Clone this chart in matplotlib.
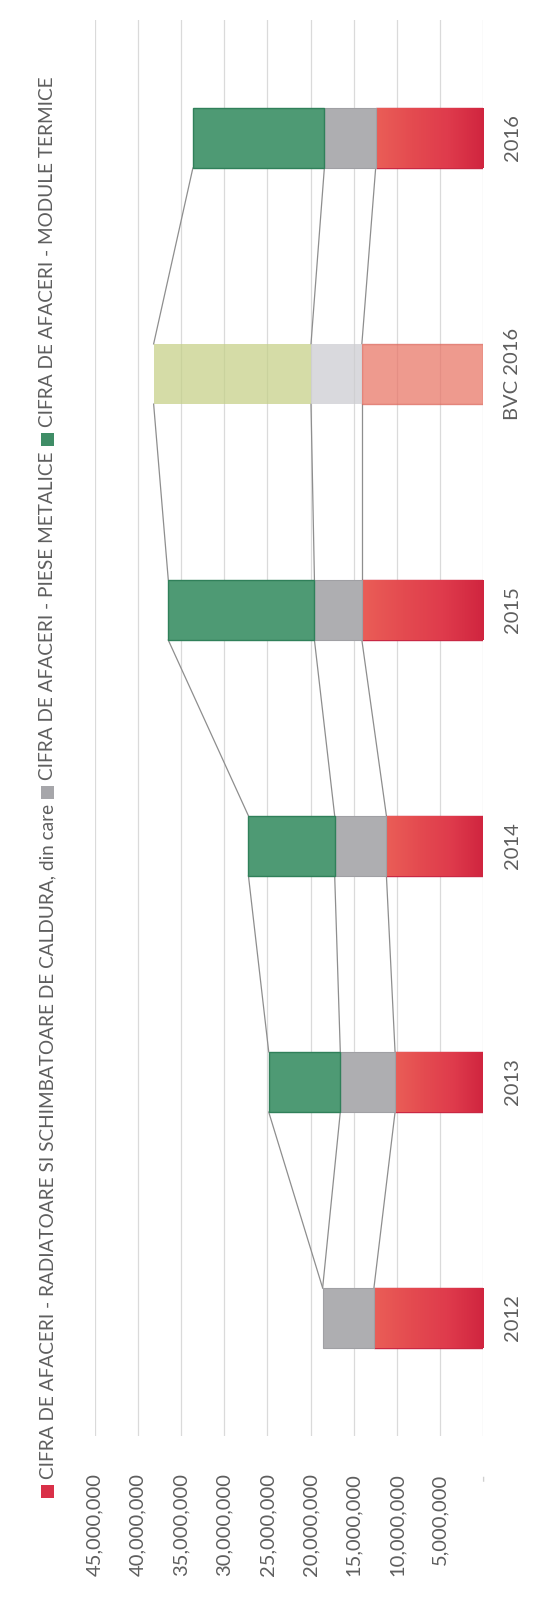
import numpy as np
import matplotlib
matplotlib.use("Agg")
import matplotlib.pyplot as plt
from matplotlib.patches import Rectangle
from matplotlib.colors import LinearSegmentedColormap

# ---------------- data ----------------
categories = ["2012", "2013", "2014", "2015", "BVC 2016", "2016"]
radiatoare = [12.65e6, 10.2e6, 11.2e6, 14.05e6, 14.05e6, 12.45e6]
piese_metalice = [5.95e6, 6.35e6, 6.0e6, 5.5e6, 5.9e6, 5.95e6]
module_termice = [0.0, 8.3e6, 10.0e6, 16.95e6, 18.25e6, 15.25e6]
value_ticks = [0, 5e6, 10e6, 15e6, 20e6, 25e6, 30e6, 35e6, 40e6, 45e6]
value_tick_labels = ["-", "5,000,000", "10,000,000", "15,000,000", "20,000,000",
                     "25,000,000", "30,000,000", "35,000,000", "40,000,000", "45,000,000"]
series_names = ["CIFRA DE AFACERI - RADIATOARE SI SCHIMBATOARE DE CALDURA, din care",
                "CIFRA DE AFACERI - PIESE METALICE",
                "CIFRA DE AFACERI - MODULE TERMICE"]
budget_category = "BVC 2016"

# ---------------- style ----------------
FONT = ["Lato", "DejaVu Sans"]
TXT = "#5E5E5E"
W, H = 535, 1597
plt.rcParams["font.family"] = FONT

red_cmap = LinearSegmentedColormap.from_list("red", ["#D0253F", "#DF3B4C", "#E44B50", "#EA5E57"])
red_edge = "#C92844"
gray_face, gray_edge = "#AEAEB1", "#A0A0A4"
green_face, green_edge = "#4E9A74", "#30805A"
bvc_red, bvc_red_edge = "#E87363", "#DC6A5E"
bvc_gray = "#CBCBD0"
bvc_green = "#C5CF86"

fig = plt.figure(figsize=(W / 100, H / 100), dpi=100)
ax = fig.add_axes([95 / W, 1 - 1436 / H, (483 - 95) / W, (1436 - 20) / H])

y = np.arange(len(categories))
h = 0.255
red = np.array(radiatoare)
gray = np.array(piese_metalice)
green = np.array(module_termice)

for i, cat in enumerate(categories):
    if cat == budget_category:
        ax.barh(y[i], red[i], h, left=0, color=bvc_red, edgecolor=bvc_red_edge,
                lw=1, alpha=0.72, zorder=2)
        ax.barh(y[i], gray[i], h, left=red[i], color=bvc_gray, edgecolor="none",
                alpha=0.72, zorder=2)
        ax.barh(y[i], green[i], h, left=red[i] + gray[i], color=bvc_green,
                edgecolor="none", alpha=0.72, zorder=2)
    else:
        b = ax.barh(y[i], red[i], h, left=0, color="#DE3A4E", edgecolor=red_edge,
                    lw=1, zorder=2)[0]
        im = ax.imshow(np.linspace(0, 1, 256).reshape(1, -1),
                       extent=(0, red[i], y[i] - h / 2, y[i] + h / 2),
                       cmap=red_cmap, aspect="auto", zorder=2.1,
                       interpolation="bilinear")
        im.set_clip_path(b)
        ax.barh(y[i], gray[i], h, left=red[i], color=gray_face, edgecolor=gray_edge,
                lw=0.8, zorder=2.2)
        if green[i] > 0:
            ax.barh(y[i], green[i], h, left=red[i] + gray[i], color=green_face,
                    edgecolor=green_edge, lw=1, zorder=2.2)

# series lines
c1 = red
c2 = red + gray
c3 = red + gray + green
for i in range(len(categories) - 1):
    for c in (c1, c2, c3):
        ax.plot([c[i], c[i + 1]], [y[i] + h / 2, y[i + 1] - h / 2],
                color="#8E8E8E", lw=0.9, zorder=1.5)

ax.set_xlim(45e6, 0)
ax.set_ylim(-0.5, len(categories) - 0.5)

ax.set_axisbelow(True)
ax.set_xticks(value_ticks)
ax.set_xticklabels(value_tick_labels, rotation=90, va="top", ha="center",
                   fontsize=14.5, color=TXT)
ax.get_xticklabels()[0].set_color("#CFCFCF")
ax.tick_params(axis="x", length=0, pad=27)
ax.xaxis.grid(True, color="#DADADA", lw=0.9)
ax.yaxis.grid(False)

ax.yaxis.tick_right()
ax.set_yticks(y)
ax.set_yticklabels(categories, rotation=90, va="center", ha="left",
                   fontsize=14.5, color=TXT)
ax.tick_params(axis="y", length=0, pad=15)

for s in ax.spines.values():
    s.set_visible(False)

# legend (rotated, built manually)
legend_colors = ["#D93048", "#A6A6AA", "#3F8D66"]
fig.canvas.draw()
r = fig.canvas.get_renderer()
cur = H - 1498
for color, name in zip(legend_colors, series_names):
    fig.add_artist(Rectangle((41 / W, cur / H), 13 / W, 13 / H,
                             transform=fig.transFigure, facecolor=color,
                             edgecolor="none"))
    t = fig.text(47.5 / W, (cur + 13 + 6) / H, name, rotation=90, ha="center",
                 va="bottom", fontsize=13.7, color=TXT)
    bb = t.get_window_extent(renderer=r)
    cur = bb.y1 + 5

fig.savefig("out.png", dpi=100, facecolor="white")
